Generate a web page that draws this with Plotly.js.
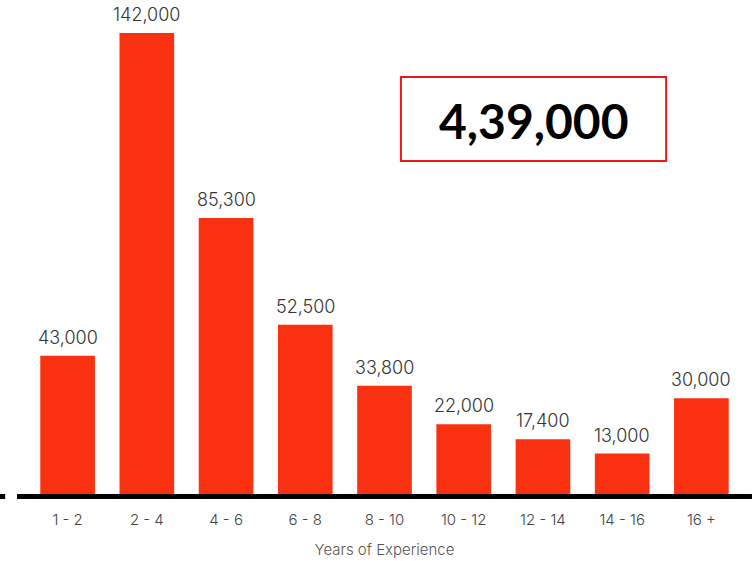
<!DOCTYPE html>
<html>
<head>
<meta charset="utf-8">
<script src="https://cdn.plot.ly/plotly-3.0.1.min.js"></script>
<style>html,body{margin:0;padding:0;background:#fff;}#chart{width:755px;height:561px;}</style>
</head>
<body>
<div id="chart"></div>
<script>
const categories = ["1 - 2", "2 - 4", "4 - 6", "6 - 8", "8 - 10", "10 - 12", "12 - 14", "14 - 16", "16 +"];
const values = [43000, 142000, 85300, 52500, 33800, 22000, 17400, 13000, 30000];
const totalLabel = "4,39,000";
const xTitle = "Years of Experience";

const labels = values.map(v => v.toLocaleString("en-US"));
const fontFam = "Inter, Roboto, sans-serif";

const trace = {
  type: "bar",
  x: categories,
  y: values,
  marker: {color: "#F93110"},
  hoverinfo: "none"
};

const valueAnnotations = categories.map((c, i) => ({
  xref: "x", yref: "y", x: c, y: values[i], text: labels[i], showarrow: false,
  xanchor: "center", yanchor: "bottom", yshift: 6,
  font: {family: fontFam, size: 18, color: "#333", weight: 300}
}));

const layout = {
  width: 755, height: 561,
  margin: {l: 28, r: 14, t: 20, b: 65},
  paper_bgcolor: "#fff", plot_bgcolor: "#fff",
  showlegend: false,
  bargap: 0.31,
  xaxis: {
    type: "category",
    showgrid: false, zeroline: false, showline: false,
    ticks: "", ticklabelstandoff: 13,
    tickfont: {family: fontFam, size: 15, color: "#444", weight: 300},
    title: {text: xTitle, standoff: 16, font: {family: fontFam, size: 15, color: "#555", weight: 300}}
  },
  yaxis: {
    range: [0, 146000], visible: false, showgrid: false, zeroline: false
  },
  shapes: [
    {type: "line", xref: "paper", yref: "paper", x0: -0.0154, x1: 1.0154, y0: -0.001, y1: -0.001, line: {color: "#000", width: 5}, layer: "above"},
    {type: "line", xref: "paper", yref: "paper", x0: -0.0393, x1: -0.032, y0: -0.001, y1: -0.001, line: {color: "#000", width: 5}, layer: "above"},
    {type: "rect", xref: "paper", yref: "paper", x0: 0.523, x1: 0.895, y0: 0.704, y1: 0.880, line: {color: "#E8191C", width: 2}, fillcolor: "rgba(0,0,0,0)"}
  ],
  annotations: valueAnnotations.concat([
    {xref: "paper", yref: "paper", x: 0.709, y: 0.789, text: "<b>" + totalLabel + "</b>", showarrow: false,
     xanchor: "center", yanchor: "middle", font: {family: "Lato, 'Open Sans', sans-serif", size: 48, color: "#000"}}
  ])
};

Plotly.newPlot("chart", [trace], layout, {displayModeBar: false, staticPlot: true});
</script>
</body>
</html>
